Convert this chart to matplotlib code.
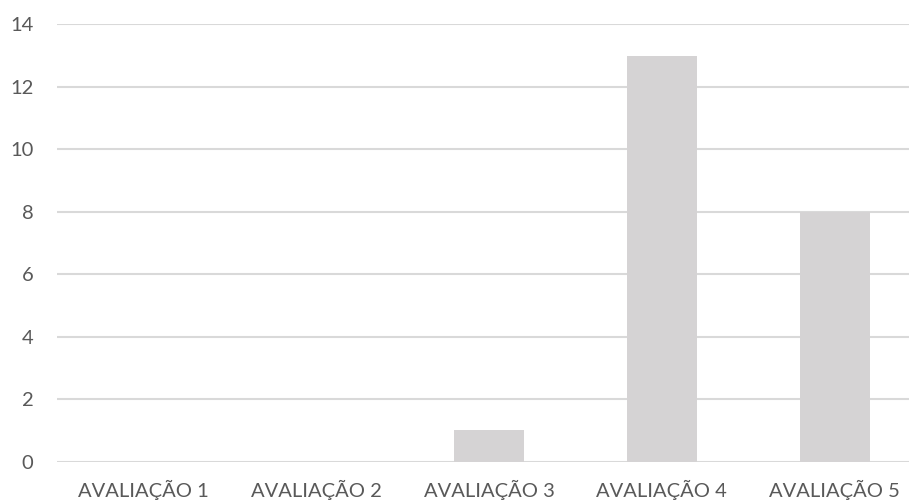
import matplotlib
matplotlib.use("Agg")
import matplotlib.pyplot as plt

categories = ["AVALIAÇÃO 1", "AVALIAÇÃO 2", "AVALIAÇÃO 3", "AVALIAÇÃO 4", "AVALIAÇÃO 5"]
values = [0, 0, 1, 13, 8]
y_ticks = [0, 2, 4, 6, 8, 10, 12, 14]

text_color = "#595959"
grid_color = "#d9d9d9"
bar_color = "#d5d3d4"

plt.rcParams["font.family"] = ["Lato", "DejaVu Sans"]

fig = plt.figure(figsize=(9.09, 5.04), dpi=100)
ax = fig.add_axes([0.0627, 0.0839, 0.9505, 0.8679])

x = range(len(categories))
ax.bar(x, values, width=0.405, color=bar_color, zorder=3)

ax.set_ylim(0, 14)
ax.set_xlim(-0.5, len(categories) - 0.5)
ax.set_yticks(y_ticks)
ax.set_xticks(list(x))
ax.set_xticklabels(categories)

ax.grid(axis="y", color=grid_color, linewidth=1.5, zorder=0)
for s in ax.spines.values():
    s.set_visible(False)
ax.tick_params(axis="both", length=0, colors=text_color, labelsize=14.5)
ax.tick_params(axis="y", pad=17)
ax.tick_params(axis="x", pad=13)

fig.savefig("out.png", dpi=100)
